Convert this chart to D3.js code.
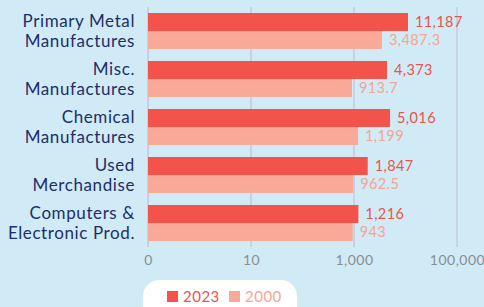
<!DOCTYPE html>
<html>
<head>
<meta charset="utf-8">
<script src="https://cdn.jsdelivr.net/npm/d3@7"></script>
<style>
  html, body { margin: 0; padding: 0; background: #d0eaf6; }
  svg { display: block; font-family: Lato, sans-serif; }
</style>
</head>
<body>
<div id="chart"></div>
<script>
var categories = [
  ["Primary Metal", "Manufactures"],
  ["Misc.", "Manufactures"],
  ["Chemical", "Manufactures"],
  ["Used", "Merchandise"],
  ["Computers &", "Electronic Prod."]
];
var series = ["2023", "2000"];
var values2023 = [11187, 4373, 5016, 1847, 1216];
var values2000 = [3487.3, 913.7, 1199, 962.5, 943];
var tickValues = [0.1, 10, 1000, 100000];

var width = 484, height = 307;
var colors = { "2023": "#f2544b", "2000": "#f8a997" };
var labelColors = { "2023": "#e8554c", "2000": "#f5a592" };

var svg = d3.select("#chart").append("svg")
    .attr("width", width)
    .attr("height", height);

svg.append("rect").attr("width", width).attr("height", height).attr("fill", "#d0eaf6");

// scales
var x = d3.scaleLog()
    .domain([0.1, 100000])
    .range([148, 457]);

var y = d3.scaleBand()
    .domain(d3.range(categories.length))
    .range([7, 247])
    .paddingInner(0.25)
    .paddingOuter(0.125);

var ySub = d3.scaleBand()
    .domain(series)
    .range([0, y.bandwidth()]);

// grid lines
svg.append("g")
  .selectAll("line")
  .data(tickValues)
  .enter()
  .append("line")
    .attr("x1", function(d) { return x(d); })
    .attr("x2", function(d) { return x(d); })
    .attr("y1", 7)
    .attr("y2", 247)
    .style("stroke", "#c3c8dc")
    .style("stroke-width", 1.5);

// axis labels
var xAxis = d3.axisBottom(x)
    .tickValues(tickValues)
    .tickSize(0)
    .tickFormat(function(d) { return d < 1 ? "0" : d3.format(",")(d); });

var ax = svg.append("g")
    .attr("transform", "translate(0,252)")
    .call(xAxis);
ax.select(".domain").remove();
ax.selectAll("text")
    .style("font-family", "Lato, sans-serif")
    .style("font-size", "14px")
    .style("letter-spacing", "0.5px")
    .style("fill", "#8a8d93");

// bars
var rows = categories.map(function(c, i) {
  return { i: i, vals: [
    { key: "2023", v: values2023[i] },
    { key: "2000", v: values2000[i] }
  ]};
});

var groups = svg.append("g")
  .selectAll("g")
  .data(rows)
  .enter()
  .append("g")
    .attr("transform", function(d) { return "translate(0," + y(d.i) + ")"; });

groups.selectAll("rect")
  .data(function(d) { return d.vals; })
  .enter()
  .append("rect")
    .attr("x", x(0.1))
    .attr("y", function(d) { return ySub(d.key); })
    .attr("width", function(d) { return x(d.v) - x(0.1); })
    .attr("height", ySub.bandwidth())
    .style("fill", function(d) { return colors[d.key]; });

groups.selectAll("text.val")
  .data(function(d) { return d.vals; })
  .enter()
  .append("text")
    .attr("class", "val")
    .attr("x", function(d) { return x(d.v) + 7; })
    .attr("y", function(d) { return ySub(d.key) + ySub.bandwidth() / 2; })
    .attr("dy", "0.35em")
    .style("font-size", "14.5px")
    .style("letter-spacing", "0.4px")
    .style("fill", function(d) { return labelColors[d.key]; })
    .text(function(d) { return d3.format(",")(d.v); });

// category labels
groups.append("text")
    .attr("x", 135)
    .attr("y", y.bandwidth() / 2)
    .attr("text-anchor", "end")
    .style("font-size", "17px")
    .style("letter-spacing", "0.6px")
    .style("fill", "#1d2f6a")
  .selectAll("tspan")
  .data(function(d) { return categories[d.i]; })
  .enter()
  .append("tspan")
    .attr("x", 135)
    .attr("dy", function(d, j) { return j === 0 ? "-0.25em" : "1.2em"; })
    .text(function(d) { return d; });

// legend
var legend = svg.append("g");
legend.append("rect")
    .attr("x", 143).attr("y", 280)
    .attr("width", 154).attr("height", 44)
    .attr("rx", 16)
    .style("fill", "#ffffff");

var lx = [167, 229];
series.forEach(function(s, i) {
  legend.append("rect")
    .attr("x", lx[i]).attr("y", 291)
    .attr("width", 11).attr("height", 11)
    .style("fill", colors[s]);
  legend.append("text")
    .attr("x", lx[i] + 16).attr("y", 297)
    .attr("dy", "0.35em")
    .style("font-size", "15px")
    .style("letter-spacing", "0.5px")
    .style("fill", labelColors[s])
    .text(s);
});
</script>
</body>
</html>
